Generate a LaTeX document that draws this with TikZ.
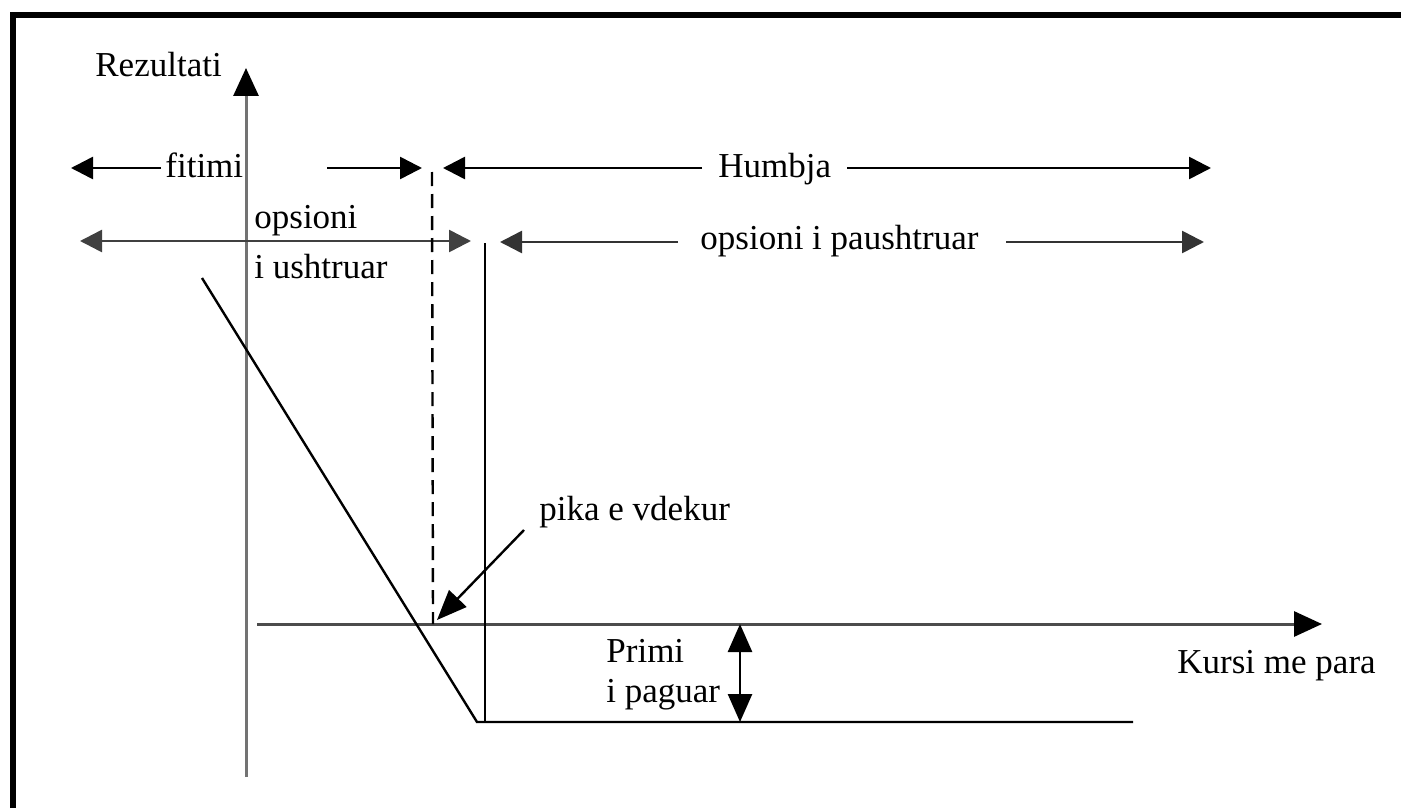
\documentclass[tikz,border=0pt]{standalone}
\usepackage{fontspec}
\setmainfont{Liberation Serif}
\usetikzlibrary{arrows.meta}
\begin{document}
\begin{tikzpicture}[x=0.5pt,y=-0.5pt,
  lbl/.style={anchor=base west, inner sep=0pt, font=\fontsize{17.5pt}{21pt}\selectfont},
  spanarrow/.style={line width=1.3pt, -{Triangle[length=11pt,width=11pt]}},
  spanboth/.style={line width=1.3pt, {Triangle[length=11pt,width=11pt]}-{Triangle[length=11pt,width=11pt]}},
  axisline/.style={line width=1.5pt, draw=black!55, -{Triangle[length=14pt,width=12.5pt,color=black]}},
  payoff/.style={line width=1.2pt, line join=miter},
  pointer/.style={line width=1.2pt, -{Triangle[length=15pt,width=12pt]}},
  premium/.style={line width=1.3pt, {Triangle[length=14pt,width=12pt]}-{Triangle[length=14pt,width=12pt]}}
]
\useasboundingbox (0,0) rectangle (1401,808);
\clip (0,0) rectangle (1401,808);
% frame (only its top and left sides fall inside the page)
\draw[line width=2.6pt] (13,808) -- (13,15) -- (1401,15);

% axes
\coordinate (yb) at (246,777);
\coordinate (yt) at (246,68);
\coordinate (xl) at (257,624);
\coordinate (xr) at (1322,624);
\draw[axisline] (yb) -- (yt);
\draw[axisline, draw=black!70] (xl) -- (xr);
\node[lbl] (rez) at (95,76) {Rezultati};
\node[lbl] (kursi) at (1177,673) {Kursi me para};

% first row: profit / loss
\node[lbl] (fit) at (165,177) {fitimi};
\coordinate (f1) at (161,168);
\coordinate (f0) at (71,168);
\coordinate (f2) at (327,168);
\coordinate (f3) at (422,168);
\draw[spanarrow] (f1) -- (f0);
\draw[spanarrow] (f2) -- (f3);
\node[lbl] (hum) at (718,177) {Humbja};
\coordinate (h1) at (702,168);
\coordinate (h0) at (443,168);
\coordinate (h2) at (847,168);
\coordinate (h3) at (1211,168);
\draw[spanarrow] (h1) -- (h0);
\draw[spanarrow] (h2) -- (h3);

% second row: exercised / not exercised
\coordinate (e0) at (80,241);
\coordinate (e1) at (471,241);
\draw[spanboth, draw=black!75, fill=black] (e0) -- (e1);
\node[lbl] (ops1) at (254,228) {opsioni};
\node[lbl] (ops2) at (254,278) {i ushtruar};
\node[lbl] (pau) at (700,249) {opsioni i paushtruar};
\coordinate (p1) at (678,242);
\coordinate (p0) at (500,242);
\coordinate (p2) at (1006,242);
\coordinate (p3) at (1204,242);
\draw[spanarrow, draw=black!80] (p1) -- (p0);
\draw[spanarrow, draw=black!80] (p2) -- (p3);

% break-even and strike lines
\coordinate (d0) at (432,172);
\coordinate (d1) at (433,624);
\draw[line width=1.2pt, dash pattern=on 7pt off 4pt] (d0) -- (d1);
\coordinate (s0) at (485,243);
\coordinate (s1) at (485,722);
\draw[line width=1.2pt] (s0) -- (s1);

% payoff of the bought put
\coordinate (a) at (202,278);
\coordinate (b) at (477,722);
\coordinate (c) at (1133,722);
\draw[payoff] (a) -- (b) -- (c);

% break-even label
\node[lbl] (pika) at (539,520) {pika e vdekur};
\coordinate (k0) at (524,530);
\coordinate (k1) at (437,620);
\draw[pointer] (k0) -- (k1);

% premium paid
\node[lbl] (pr1) at (606,662) {Primi};
\node[lbl] (pr2) at (606,702) {i paguar};
\coordinate (m0) at (740,624);
\coordinate (m1) at (740,722);
\draw[premium] (m0) -- (m1);
\end{tikzpicture}
\end{document}
